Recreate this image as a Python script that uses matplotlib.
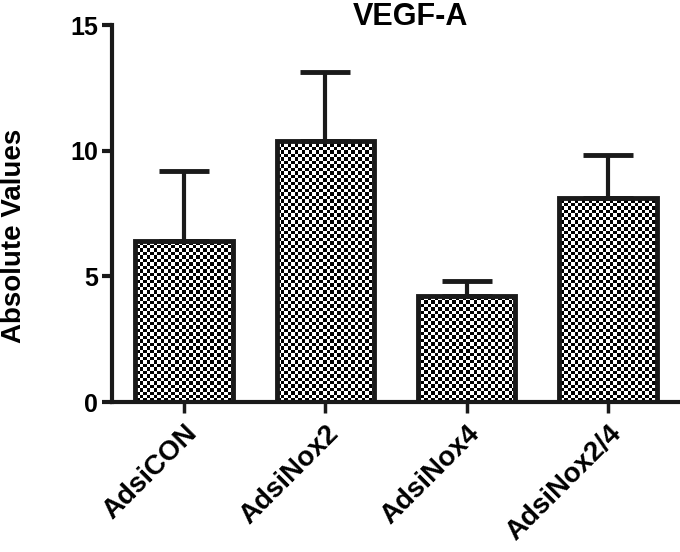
import numpy as np
import matplotlib
matplotlib.use("Agg")
import matplotlib.pyplot as plt

categories = ["AdsiCON", "AdsiNox2", "AdsiNox4", "AdsiNox2/4"]
means = [6.4, 10.4, 4.2, 8.1]
errors = [2.8, 2.75, 0.62, 1.72]
yticks = [0, 5, 10, 15]
title = "VEGF-A"
ylabel = "Absolute Values"

plt.rcParams['font.family'] = ['Liberation Sans', 'DejaVu Sans']
plt.rcParams['font.weight'] = 'bold'

fig = plt.figure(figsize=(6.8, 5.52), dpi=100)
ax = fig.add_axes([0.1647, 0.2717, 0.8353, 0.6830])

x = np.arange(len(categories))
bars = ax.bar(x, means, width=0.69, facecolor='none', edgecolor='#1a1a1a',
              linewidth=3.5, zorder=2)

ax.set_xlim(-0.51, 3.51)
ax.set_ylim(0, 15)

# checkerboard fill clipped to each bar
ncols, nrows = 162, 108
ii, jj = np.indices((nrows, ncols))
checker = ((ii + jj) % 2).astype(float)
for b in bars:
    im = ax.imshow(checker, extent=[-0.51, 3.51, 0, 15], aspect='auto',
                   interpolation='nearest', cmap='gray', vmin=0.1, vmax=1.0,
                   zorder=1.5)
    im.set_clip_path(b)
ax.set_xlim(-0.51, 3.51)
ax.set_ylim(0, 15)

ax.errorbar(x, means, yerr=[[0] * len(errors), errors], fmt='none',
            ecolor='#1a1a1a', elinewidth=3, capsize=18, capthick=3.5, zorder=3)

for s in ['top', 'right']:
    ax.spines[s].set_visible(False)
for s in ['left', 'bottom']:
    ax.spines[s].set_linewidth(3)
    ax.spines[s].set_color('#1a1a1a')

ax.set_yticks(yticks)
ax.set_yticklabels([str(t) for t in yticks], fontsize=18, fontweight='bold')
ax.set_xticks(x)
ax.set_xticklabels(categories, rotation=45, ha='right', rotation_mode='anchor',
                   fontsize=20, fontweight='bold')
ax.tick_params(axis='y', direction='out', length=7, width=3, pad=3, color='#1a1a1a')
ax.tick_params(axis='x', direction='out', length=8, width=2.5, pad=5, color='#1a1a1a')

ax.set_ylabel(ylabel, fontsize=20, fontweight='bold')
ax.yaxis.set_label_coords(-0.15, 0.44)
fig.text(410 / 680, 1 - 25 / 552, title, fontsize=22, fontweight='bold',
         ha='center', va='baseline')

fig.savefig("out.png", dpi=100)
